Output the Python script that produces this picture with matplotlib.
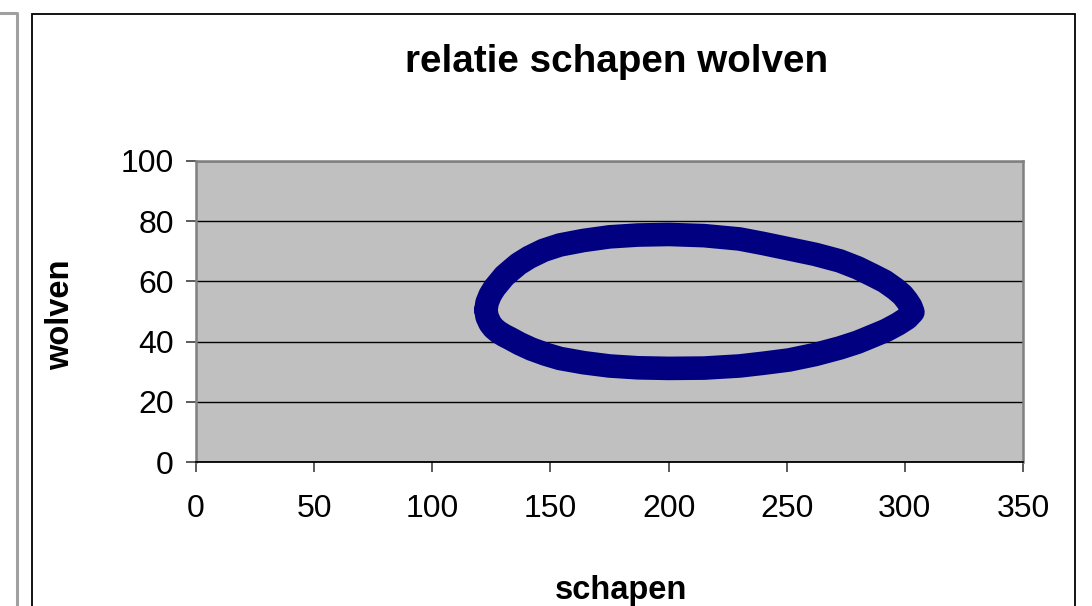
import matplotlib.pyplot as plt
from matplotlib.patches import Rectangle
from matplotlib.lines import Line2D

schapen = [122.7, 123.2, 124.5, 126.0, 128.0, 130.5, 133.0, 137.0, 142.0,
           148.0, 154.0, 164.0, 175.0, 187.0, 200.0, 215.0, 230.0, 240.0,
           251.0, 262.0, 272.5, 280.0, 286.5, 292.0, 297.0, 301.0, 303.4,
           302.5, 301.0, 299.0, 296.0, 291.5, 286.5, 280.0, 272.5, 262.0,
           251.0, 240.0, 230.0, 215.0, 200.0, 187.0, 175.0, 164.0, 154.0,
           147.0, 141.0, 136.5, 133.0, 130.5, 128.6, 126.3, 124.5, 123.2,
           122.7]
wolven = [50.5, 48.2, 46.0, 44.5, 43.2, 42.0, 41.0, 39.3, 37.5,
          35.8, 34.4, 33.0, 31.9, 31.3, 31.1, 31.2, 31.9, 32.8,
          33.9, 35.7, 37.9, 39.8, 41.9, 43.7, 45.8, 47.8, 49.8,
          51.7, 53.5, 55.5, 57.5, 60.0, 62.0, 64.5, 66.8, 69.0,
          70.8, 72.6, 74.1, 75.2, 75.6, 75.4, 74.8, 73.6, 72.1,
          70.3, 68.0, 65.8, 63.5, 61.8, 60.0, 57.8, 55.5, 53.0,
          50.5]

x_ticks = [0, 50, 100, 150, 200, 250, 300, 350]
y_ticks = [0, 20, 40, 60, 80, 100]

plt.rcParams['font.family'] = ['Liberation Sans', 'DejaVu Sans']

fig = plt.figure(figsize=(10.92, 6.06), dpi=100)
fig.patch.set_facecolor('white')

W, H = 1092.0, 606.0

# grijze rand links (ander element)
fig.add_artist(Line2D([0, 17 / W, 17 / W], [1 - 13 / H, 1 - 13 / H, 0],
                      transform=fig.transFigure, color='#a0a0a0', lw=2.2))
# kader van de grafiek
fig.add_artist(Rectangle((32 / W, -0.05), (1075 - 32) / W, 1.05 - 14 / H,
                         transform=fig.transFigure, fill=False,
                         edgecolor='black', lw=1.3))

ax = fig.add_axes([196 / W, 1 - 462 / H, 827 / W, 301 / H])
ax.set_facecolor('#c0c0c0')

ax.plot(schapen, wolven, color='#000080', lw=17, solid_joinstyle='round',
        solid_capstyle='round', zorder=3)

ax.set_xlim(0, 350)
ax.set_ylim(0, 100)
ax.set_xticks(x_ticks)
ax.set_yticks(y_ticks)
ax.yaxis.grid(True, color='black', lw=1.0)
ax.set_axisbelow(True)

for s in ['left', 'top', 'right']:
    ax.spines[s].set_color('#808080')
    ax.spines[s].set_linewidth(1.8)
ax.spines['bottom'].set_color('black')
ax.spines['bottom'].set_linewidth(1.3)

ax.tick_params(axis='both', labelsize=23, length=7, width=1.2,
               color='#404040', direction='out')
ax.tick_params(axis='x', pad=16)
ax.tick_params(axis='y', pad=9)

fig.text(617 / W, 1 - 62 / H, 'relatie schapen wolven', ha='center',
         va='center', fontsize=27.8, fontweight='bold')
fig.text(621 / W, 1 - 590 / H, 'schapen', ha='center', va='center',
         fontsize=23.5, fontweight='bold')
fig.text(61 / W, 1 - 315 / H, 'wolven', ha='center', va='center',
         fontsize=23.5, fontweight='bold', rotation=90)

fig.savefig('out.png', dpi=100)
